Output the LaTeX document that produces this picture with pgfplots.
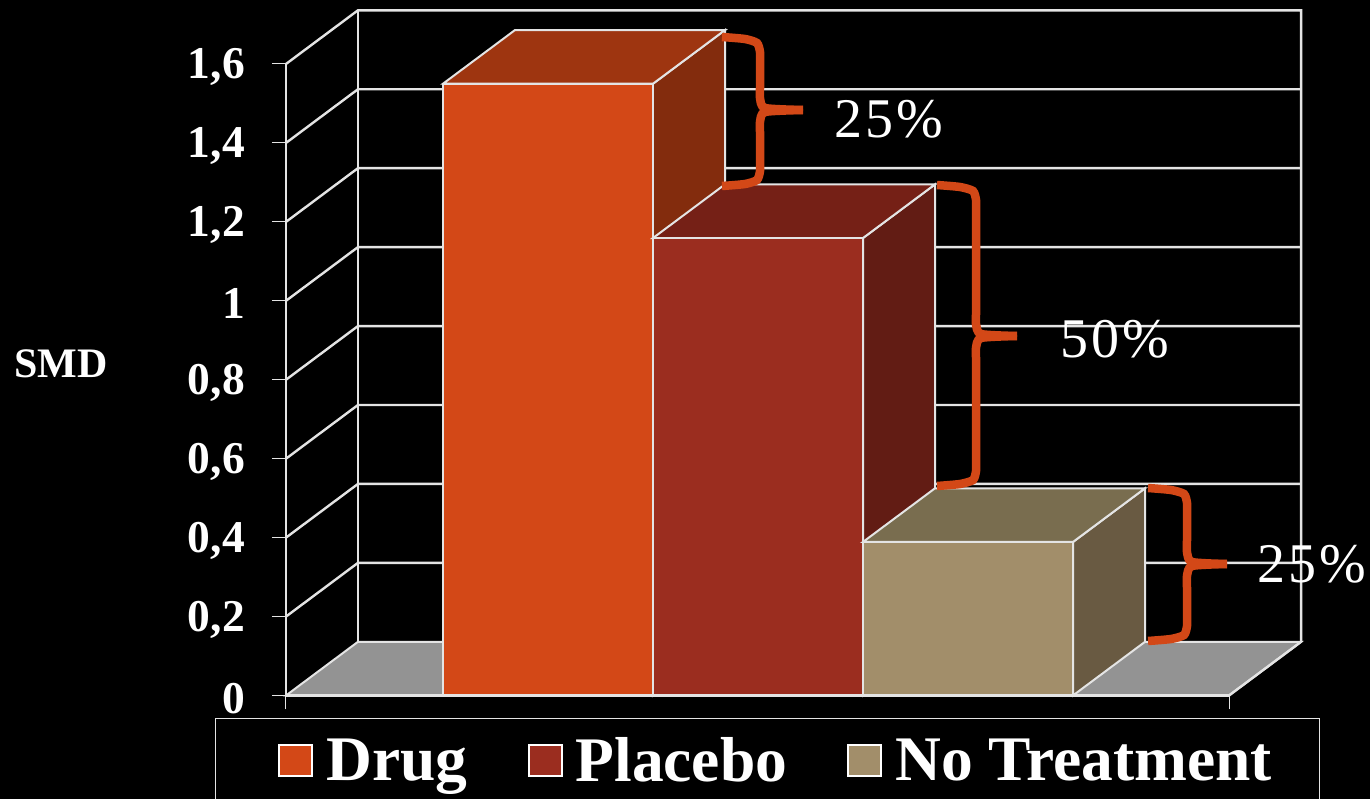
\documentclass[border=0pt]{standalone}
\usepackage{fontspec}
\setmainfont{Liberation Serif}
\usepackage{pgfplots}
\pgfplotsset{compat=1.18}
\definecolor{drug}{HTML}{D34817}
\definecolor{drugtop}{HTML}{9E3510}
\definecolor{drugside}{HTML}{832C0D}
\definecolor{plac}{HTML}{9B2D1F}
\definecolor{plactop}{HTML}{752016}
\definecolor{placside}{HTML}{621C14}
\definecolor{notr}{HTML}{A28E6A}
\definecolor{notrtop}{HTML}{796D4F}
\definecolor{notrside}{HTML}{695A42}
\definecolor{wall}{HTML}{E4E4E4}
\newcommand{\fsz}[1]{\fontsize{#1}{#1}\selectfont}
\newcommand{\pct}[1]{{\addfontfeatures{LetterSpace=5}#1}}
\begin{document}
\begin{tikzpicture}
\clip (0,0) rectangle (1370pt,799pt);
\fill[black] (0,0) rectangle (1370pt,799pt);
% main chart: x = category number, y = SMD; depth is 0.343 across, 0.136 up
\begin{axis}[at={(286pt,103.5pt)}, anchor=south west, scale only axis, width=943pt, height=631.5pt,
             xmin=-1.2476, xmax=3.2429, ymin=0, ymax=1.6, clip=false, axis on top,
             axis x line*=bottom, axis y line*=left, axis line style={wall, line width=2.4pt, -},
             xtick={-1.2476,3.2429}, xticklabels={}, ytick={0,0.2,0.4,0.6,0.8,1,1.2,1.4,1.6},
             tick align=outside, major tick length=14pt, tick style={wall, line width=1pt},
             /pgf/number format/.cd, use comma, fixed, assume math mode=true, /tikz/.cd,
             yticklabel style={font=\bfseries\fsz{45.5}, text=white, inner sep=0pt, xshift=-27pt, yshift=-3pt},
             ylabel={SMD}, ylabel style={font=\bfseries\fsz{42}, text=white, rotate=-90, anchor=center,
                                         at={(axis description cs:-0.2389,0.525)}},
             wl/.style={draw=wall, line width=2.4pt, forget plot},
             box/.style={fill=#1, draw=wall, line width=2pt, forget plot}]
% floor
\addplot[box=gray!85] coordinates {(-1.2476,0) (3.2429,0) (3.586,0.136) (-0.905,0.136)} -- cycle;
% back wall and grid
\addplot[wl] coordinates {(-1.2476,1.6) (-0.905,1.736) (3.586,1.736) (3.586,0.136) (3.2429,0)};
\addplot[wl] coordinates {(-0.905,1.736) (-0.905,0.136)};
\addplot[wl] coordinates {(-1.2476,0.2) (-0.905,0.336) (3.586,0.336)};
\addplot[wl] coordinates {(-1.2476,0.4) (-0.905,0.536) (3.586,0.536)};
\addplot[wl] coordinates {(-1.2476,0.6) (-0.905,0.736) (3.586,0.736)};
\addplot[wl] coordinates {(-1.2476,0.8) (-0.905,0.936) (3.586,0.936)};
\addplot[wl] coordinates {(-1.2476,1.0) (-0.905,1.136) (3.586,1.136)};
\addplot[wl] coordinates {(-1.2476,1.2) (-0.905,1.336) (3.586,1.336)};
\addplot[wl] coordinates {(-1.2476,1.4) (-0.905,1.536) (3.586,1.536)};
% Drug
\addplot[box=drugside] coordinates {(0.5,0) (0.843,0.136) (0.843,1.686) (0.5,1.55)} -- cycle;
\addplot[box=drugtop] coordinates {(-0.5,1.55) (0.5,1.55) (0.843,1.686) (-0.157,1.686)} -- cycle;
\addplot[box=drug] coordinates {(-0.5,0) (0.5,0) (0.5,1.55) (-0.5,1.55)} -- cycle;
% Placebo
\addplot[box=placside] coordinates {(1.5,0) (1.843,0.136) (1.843,1.295) (1.5,1.159)} -- cycle;
\addplot[box=plactop] coordinates {(0.5,1.159) (1.5,1.159) (1.843,1.295) (0.843,1.295)} -- cycle;
\addplot[box=plac] coordinates {(0.5,0) (1.5,0) (1.5,1.159) (0.5,1.159)} -- cycle;
% No Treatment
\addplot[box=notrside] coordinates {(2.5,0) (2.843,0.136) (2.843,0.525) (2.5,0.389)} -- cycle;
\addplot[box=notrtop] coordinates {(1.5,0.389) (2.5,0.389) (2.843,0.525) (1.843,0.525)} -- cycle;
\addplot[box=notr] coordinates {(1.5,0) (2.5,0) (2.5,0.389) (1.5,0.389)} -- cycle;
\end{axis}
% overlay in picture pixels: braces, percentages, legend
\begin{axis}[at={(0pt,0pt)}, anchor=south west, scale only axis, width=1370pt, height=799pt,
             xmin=0, xmax=1370, ymin=0, ymax=799, y dir=reverse, hide axis, clip=false,
             legend columns=3,
             legend style={at={(axis description cs:0.1569,0.1014)}, anchor=north west, draw=wall, line width=1pt,
                           fill=black, text=white, font=\bfseries\fsz{63.5}, inner xsep=63pt, inner ysep=17pt,
                           /tikz/every odd column/.append style={column sep=11pt},
                           /tikz/every even column/.append style={column sep=58pt}},
             legend cell align=left,
             legend image code/.code={\draw[#1, draw=white, line width=2pt] (0pt,-16pt) rectangle (33pt,15pt);},
             brc/.style={draw=drug, line width=8.5pt, smooth, tension=0.4, forget plot}]
\addlegendimage{fill=drug}\addlegendentry{Drug}
\addlegendimage{fill=plac}\addlegendentry{Placebo}
\addlegendimage{fill=notr}\addlegendentry{No Treatment\hspace*{-17pt}}
\addplot[brc] coordinates {(722,37) (745,39) (757,43) (760,52) (760,64) (760,88) (760,98) (765,108) (803,110)};
\addplot[brc] coordinates {(722,186) (745,184) (757,180) (760,171) (760,159) (760,132) (760,122) (765,112) (803,110)};
\addplot[brc] coordinates {(937,185) (960,187) (973,191) (976,200) (976,212) (976,312) (976,324) (981,334) (1017,336)};
\addplot[brc] coordinates {(937,486) (960,484) (973,480) (976,471) (976,459) (976,360) (976,348) (981,338) (1017,336)};
\addplot[brc] coordinates {(1148,488) (1171,490) (1184,494) (1187,503) (1187,515) (1187,540) (1187,552) (1192,562) (1227,564)};
\addplot[brc] coordinates {(1148,641) (1171,639) (1184,635) (1187,626) (1187,614) (1187,588) (1187,576) (1192,566) (1227,564)};
\node[text=white, font=\fsz{56}] at (axis cs:889,119) {\pct{25\%}};
\node[text=white, font=\fsz{56}] at (axis cs:1115,339) {\pct{50\%}};
\node[text=white, font=\fsz{56}] at (axis cs:1312,564) {\pct{25\%}};
\end{axis}
\end{tikzpicture}
\end{document}
